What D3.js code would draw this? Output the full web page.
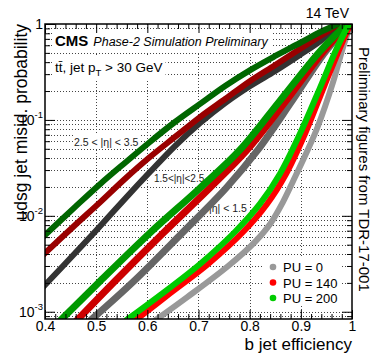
<!DOCTYPE html>
<html>
<head>
<meta charset="utf-8">
<script src="https://cdn.jsdelivr.net/npm/d3@7"></script>
<style>
  html, body { margin: 0; padding: 0; background: #fff; }
  svg { display: block; font-family: "Liberation Sans", Arial, Helvetica, sans-serif; }
</style>
</head>
<body>
<svg id="chart" width="375" height="353"></svg>
<script>
// udsg mistag probability vs b-jet efficiency, three |eta| regions x three pileup scenarios

const puLabels = ["PU = 0", "PU = 140", "PU = 200"];
const etaLabels = ["|η| < 1.5", "1.5<|η|<2.5", "2.5 < |η| < 3.5"];
const xMajorTicks = [0.4, 0.5, 0.6, 0.7, 0.8, 0.9, 1.0];
const xTickLabels = ["0.4", "0.5", "0.6", "0.7", "0.8", "0.9", "1"];
const yMajorTicks = [1e-3, 1e-2, 1e-1, 1];
const yTickLabels = [["10", "-3"], ["10", "-2"], ["10", "-1"], ["1", ""]];

// |eta| < 1.5  — [b efficiency, udsg misid]
const centralPU0 = [[0.619,0.00084],[0.678,0.00142],[0.758,0.0030],[0.810,0.00533],[0.840,0.00822],[0.865,0.0139],[0.885,0.0231],[0.908,0.0420],[0.932,0.0823],[0.963,0.248],[0.982,0.562],[0.998,1.0]];
const centralPU140 = [[0.580,0.00084],[0.640,0.00149],[0.719,0.00315],[0.787,0.00678],[0.834,0.0133],[0.871,0.0273],[0.908,0.0713],[0.945,0.220],[0.973,0.511],[0.990,0.825],[0.997,1.0]];
const centralPU200 = [[0.562,0.00084],[0.625,0.00149],[0.703,0.00315],[0.771,0.00678],[0.820,0.0133],[0.859,0.0273],[0.898,0.0713],[0.938,0.220],[0.967,0.511],[0.986,0.825],[0.995,1.0]];

// 1.5 < |eta| < 2.5
const midPU0 = [[0.492,0.00084],[0.574,0.00209],[0.668,0.00662],[0.754,0.0195],[0.816,0.0486],[0.883,0.158],[0.949,0.523],[0.996,1.0]];
const midPU140 = [[0.465,0.00084],[0.537,0.00209],[0.631,0.00662],[0.722,0.0195],[0.795,0.0486],[0.871,0.158],[0.945,0.523],[0.993,1.0]];
const midPU200 = [[0.433,0.00084],[0.508,0.00209],[0.605,0.00662],[0.703,0.0195],[0.781,0.0486],[0.859,0.158],[0.938,0.523],[0.990,1.0]];

// 2.5 < |eta| < 3.5
const forwardPU0 = [[0.400,0.0019],[0.459,0.00409],[0.508,0.00783],[0.556,0.0150],[0.605,0.0286],[0.654,0.0534],[0.703,0.0929],[0.752,0.150],[0.801,0.226],[0.850,0.324],[0.898,0.475],[0.938,0.665],[0.969,0.909]];
const forwardPU140 = [[0.400,0.00409],[0.459,0.00802],[0.508,0.0139],[0.556,0.0242],[0.605,0.0410],[0.654,0.0664],[0.703,0.107],[0.752,0.165],[0.801,0.255],[0.850,0.374],[0.898,0.549],[0.938,0.750],[0.969,0.953]];
const forwardPU200 = [[0.400,0.00631],[0.459,0.0124],[0.508,0.0215],[0.556,0.0356],[0.605,0.0589],[0.654,0.0951],[0.703,0.147],[0.752,0.226],[0.801,0.331],[0.850,0.464],[0.898,0.634],[0.938,0.825],[0.971,0.99]];

// drawing order: forward, intermediate, central; within each PU 0 -> 140 -> 200
const curves = [
  { data: forwardPU0,   color: "#333333", width: 6 },
  { data: forwardPU140, color: "#990000", width: 6 },
  { data: forwardPU200, color: "#006600", width: 6 },
  { data: midPU0,       color: "#666666", width: 7 },
  { data: midPU140,     color: "#cc0000", width: 7 },
  { data: midPU200,     color: "#009900", width: 7 },
  { data: centralPU0,   color: "#999999", width: 6 },
  { data: centralPU140, color: "#ff0000", width: 6 },
  { data: centralPU200, color: "#00cc00", width: 6 }
];
const legendColors = ["#999999", "#ff0000", "#00cc00"];

const L = 45, R = 352, T = 24, B = 319;
const x = d3.scaleLinear().domain([0.4, 1.0]).range([L, R]);
const y = d3.scaleLog().domain([8.4e-4, 1]).range([B, T]);

const svg = d3.select("#chart");

svg.append("defs").append("clipPath").attr("id", "plotClip")
  .append("rect").attr("x", L).attr("y", T).attr("width", R - L).attr("height", B - T);

// minor tick values
const xMinor = d3.range(0.40, 1.0001, 0.02).map(v => +v.toFixed(2)).filter(v => !xMajorTicks.includes(v));
const yAll = [];
for (let e = -4; e <= 0; e++) for (let k = 1; k <= 9; k++) {
  const v = k * Math.pow(10, e);
  if (v >= 8.4e-4 && v <= 1) yAll.push(v);
}
const yMinor = yAll.filter(v => !yMajorTicks.some(t => Math.abs(t - v) / t < 1e-6));

// dotted grid
const grid = svg.append("g").attr("stroke", "#444").attr("stroke-width", 1).attr("stroke-dasharray", "1,2");
grid.selectAll("line.gy").data(yAll.filter(v => v < 0.999)).join("line")
  .attr("x1", L).attr("x2", R).attr("y1", d => Math.round(y(d)) + 0.5).attr("y2", d => Math.round(y(d)) + 0.5);
grid.selectAll("line.gx").data(xMajorTicks.slice(1, -1)).join("line")
  .attr("y1", T).attr("y2", B).attr("x1", d => Math.round(x(d)) + 0.5).attr("x2", d => Math.round(x(d)) + 0.5);

// text blocks with white backgrounds
const boxes = svg.append("g");
const texts = svg.append("g").attr("fill", "#000");

function boxed(node, pad) {
  const bb = node.getBBox();
  boxes.append("rect").attr("x", bb.x - pad).attr("y", bb.y - pad)
    .attr("width", bb.width + 2 * pad).attr("height", bb.height + 2 * pad).attr("fill", "#fff");
}

const cms = texts.append("text").attr("x", 55).attr("y", 46);
cms.append("tspan").attr("font-weight", "bold").attr("font-size", 15).text("CMS");
cms.append("tspan").attr("font-style", "italic").attr("font-size", 12.5).attr("dx", 5).text("Phase-2 Simulation Preliminary");
boxed(cms.node(), 3);

const proc = texts.append("text").attr("x", 55).attr("y", 72).attr("font-size", 13.5);
proc.append("tspan").text("tt\u0304, jet p");
proc.append("tspan").attr("font-size", 9.5).attr("dy", 4).text("T");
proc.append("tspan").attr("dy", -4).text(" > 30 GeV");
boxed(proc.node(), 3);

const etaPos = [[209, 212, 10.5], [154, 182, 10], [74, 146, 10.5]];
etaLabels.forEach((lab, i) => {
  const t = texts.append("text").attr("x", etaPos[i][0]).attr("y", etaPos[i][1])
    .attr("font-size", etaPos[i][2]).attr("fill", "#222").text(lab);
  boxed(t.node(), 1);
});

// curves
const line = d3.line().x(d => x(d[0])).y(d => y(d[1])).curve(d3.curveCatmullRom.alpha(0.5));
const cg = svg.append("g").attr("clip-path", "url(#plotClip)");
curves.forEach(c => {
  cg.append("path").attr("d", line(c.data)).attr("fill", "none")
    .attr("stroke", c.color).attr("stroke-width", c.width)
    .attr("stroke-linejoin", "round").attr("stroke-linecap", "square");
});

// legend
const lg = svg.append("g");
lg.append("rect").attr("x", 264).attr("y", 258).attr("width", 76).attr("height", 48).attr("fill", "#fff");
puLabels.forEach((lab, i) => {
  const yy = 267 + i * 15.5;
  lg.append("circle").attr("cx", 273).attr("cy", yy).attr("r", 3.3).attr("fill", legendColors[i]);
  lg.append("text").attr("x", 283).attr("y", yy + 5).attr("font-size", 13).text(lab);
});

// axes (ticks pointing inward on all four sides)
function clean(g) { g.select(".domain").remove(); g.selectAll("line").attr("stroke", "#000"); }

svg.append("g").attr("transform", `translate(0,${B})`)
  .call(d3.axisBottom(x).tickValues(xMajorTicks).tickSize(-9).tickPadding(2)
    .tickFormat((d, i) => xTickLabels[i]))
  .call(clean)
  .call(g => g.selectAll("text").attr("font-size", 14).attr("fill", "#000")
    .attr("font-family", "Liberation Sans, Arial, sans-serif"));
svg.append("g").attr("transform", `translate(0,${B})`)
  .call(d3.axisBottom(x).tickValues(xMinor).tickSize(-5).tickFormat("")).call(clean);
svg.append("g").attr("transform", `translate(0,${T})`)
  .call(d3.axisTop(x).tickValues(xMajorTicks).tickSize(-9).tickFormat("")).call(clean);
svg.append("g").attr("transform", `translate(0,${T})`)
  .call(d3.axisTop(x).tickValues(xMinor).tickSize(-5).tickFormat("")).call(clean);

svg.append("g").attr("transform", `translate(${L},0)`)
  .call(d3.axisLeft(y).tickValues(yMajorTicks).tickSize(-10).tickFormat("")).call(clean);
svg.append("g").attr("transform", `translate(${L},0)`)
  .call(d3.axisLeft(y).tickValues(yMinor).tickSize(-5).tickFormat("")).call(clean);
svg.append("g").attr("transform", `translate(${R},0)`)
  .call(d3.axisRight(y).tickValues(yMajorTicks).tickSize(-10).tickFormat("")).call(clean);
svg.append("g").attr("transform", `translate(${R},0)`)
  .call(d3.axisRight(y).tickValues(yMinor).tickSize(-5).tickFormat("")).call(clean);

// y tick labels with exponents
yMajorTicks.forEach((v, i) => {
  const t = svg.append("text").attr("x", 43).attr("y", y(v) + 5).attr("text-anchor", "end").attr("font-size", 14);
  t.append("tspan").text(yTickLabels[i][0]);
  if (yTickLabels[i][1]) t.append("tspan").attr("font-size", 9.5).attr("dy", -7).text(yTickLabels[i][1]);
});

// frame
svg.append("rect").attr("x", L).attr("y", T).attr("width", R - L).attr("height", B - T)
  .attr("fill", "none").attr("stroke", "#000").attr("stroke-width", 1.5);

// axis titles and annotations
svg.append("text").attr("x", R).attr("y", 350).attr("text-anchor", "end").attr("font-size", 17).text("b jet efficiency");
svg.append("text").attr("transform", `translate(27,${T}) rotate(-90)`).attr("text-anchor", "end")
  .attr("font-size", 17.5).text("udsg jet misid. probability");
svg.append("text").attr("x", 349).attr("y", 18).attr("text-anchor", "end").attr("font-size", 14).text("14 TeV");
svg.append("text").attr("transform", "translate(359,47) rotate(90)").attr("font-size", 15)
  .text("Preliminary figures from TDR-17-001");
</script>
</body>
</html>
